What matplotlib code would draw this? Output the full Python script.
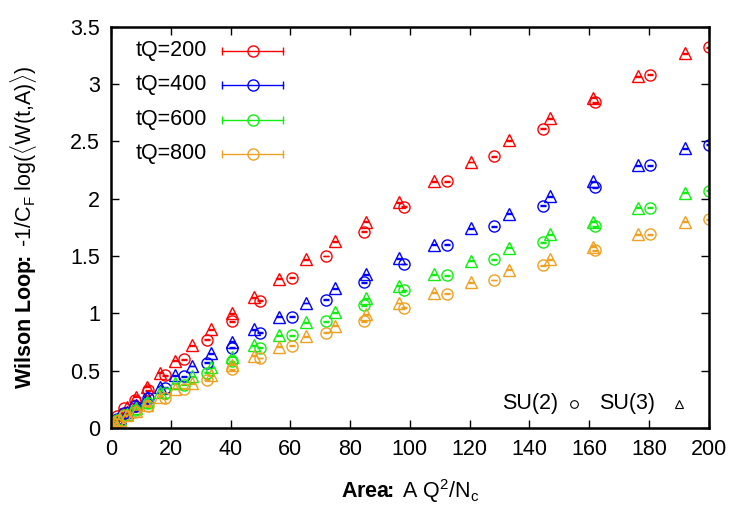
import numpy as np
import matplotlib
matplotlib.use("Agg")
import matplotlib.pyplot as plt

plt.rcParams['font.family'] = ['Liberation Sans', 'DejaVu Sans']
plt.rcParams['mathtext.fontset'] = 'custom'
plt.rcParams['mathtext.rm'] = 'Liberation Sans'
plt.rcParams['mathtext.it'] = 'Liberation Sans:italic'
plt.rcParams['mathtext.bf'] = 'Liberation Sans:bold'

# data
labels = ['tQ=200', 'tQ=400', 'tQ=600', 'tQ=800']
colors = ['#ff0000', '#0000ff', '#11ee11', '#f0a020']

area_su2 = [0, 0.5, 2, 4.5, 8, 12.5, 18, 24.5, 32, 40.5, 50, 60.5, 72, 84.5,
            98, 112.5, 128, 144.5, 162, 180.5, 200]
area_su3 = [0, 0.33, 1.33, 3, 5.33, 8.33, 12, 16.33, 21.33, 27, 33.33, 40.33,
            48, 56.33, 65.33, 75, 85.33, 96.33, 108, 120.33, 133.33, 147,
            161.33, 176.33, 192]

su2_200 = [0, 0.04, 0.10, 0.17, 0.24, 0.33, 0.46, 0.60, 0.77, 0.93, 1.11, 1.31,
           1.50, 1.71, 1.93, 2.15, 2.37, 2.61, 2.84, 3.08, 3.32]
su2_400 = [0, 0.03, 0.08, 0.13, 0.19, 0.26, 0.35, 0.45, 0.57, 0.70, 0.83, 0.97,
           1.12, 1.27, 1.43, 1.60, 1.76, 1.94, 2.10, 2.29, 2.47]
su2_600 = [0, 0.03, 0.07, 0.11, 0.16, 0.22, 0.30, 0.375, 0.48, 0.58, 0.70, 0.81,
           0.93, 1.07, 1.20, 1.33, 1.47, 1.62, 1.76, 1.92, 2.07]
su2_800 = [0, 0.02, 0.06, 0.10, 0.14, 0.19, 0.26, 0.34, 0.42, 0.51, 0.61, 0.715,
           0.83, 0.93, 1.05, 1.17, 1.29, 1.42, 1.55, 1.69, 1.82]

su3_200 = [0, 0.02, 0.06, 0.12, 0.18, 0.27, 0.36, 0.48, 0.585, 0.72, 0.86, 1.00,
           1.14, 1.30, 1.47, 1.63, 1.80, 1.97, 2.15, 2.32, 2.51, 2.70, 2.88,
           3.07, 3.27]
su3_400 = [0, 0.02, 0.05, 0.09, 0.14, 0.20, 0.27, 0.36, 0.46, 0.54, 0.65, 0.75,
           0.86, 0.97, 1.09, 1.22, 1.34, 1.48, 1.60, 1.74, 1.87, 2.02, 2.15,
           2.29, 2.44]
su3_600 = [0, 0.02, 0.05, 0.08, 0.12, 0.17, 0.23, 0.31, 0.39, 0.45, 0.53, 0.62,
           0.72, 0.81, 0.92, 1.01, 1.13, 1.24, 1.34, 1.46, 1.57, 1.69, 1.80,
           1.92, 2.05]
su3_800 = [0, 0.02, 0.04, 0.07, 0.11, 0.15, 0.20, 0.27, 0.34, 0.39, 0.46, 0.55,
           0.63, 0.71, 0.80, 0.89, 0.99, 1.09, 1.18, 1.27, 1.38, 1.47, 1.58,
           1.69, 1.80]

su2_all = [su2_200, su2_400, su2_600, su2_800]
su3_all = [su3_200, su3_400, su3_600, su3_800]

fs = 15.5

fig = plt.figure(figsize=(7.5, 5.25), dpi=100)
ax = fig.add_axes([0.148, 0.185, 0.797, 0.764])

for lab, col, y2, y3 in zip(labels, colors, su2_all, su3_all):
    ax.errorbar(area_su2, y2, yerr=0.004, fmt='o', ms=8, mfc='none', mec=col,
                mew=1.0, ecolor=col, elinewidth=1.0, capsize=2.2, capthick=1.0)
    ax.errorbar(area_su3, y3, yerr=0.004, fmt='^', ms=8, mfc='none', mec=col,
                mew=1.0, ecolor=col, elinewidth=1.0, capsize=2.2, capthick=1.0)

# key, upper left (gnuplot style)
key_y = [0.940, 0.855, 0.768, 0.683]
for lab, col, ky in zip(labels, colors, key_y):
    ax.text(0.160, ky, lab, transform=ax.transAxes, ha='right', va='center',
            fontsize=fs)
    ax.plot([0.186, 0.288], [ky, ky], color=col, lw=1.0, transform=ax.transAxes,
            clip_on=False)
    ax.plot([0.186, 0.288], [ky, ky], ls='none', marker='|', ms=6, mew=1.0,
            color=col, transform=ax.transAxes, clip_on=False)
    ax.plot([0.237], [ky], ls='none', marker='o', ms=8, mfc='none', mec=col,
            mew=1.0, transform=ax.transAxes, clip_on=False)

# symbol key, lower right
ax.text(0.7475, 0.06, 'SU(2)', transform=ax.transAxes, ha='right', va='center',
        fontsize=fs)
ax.plot([0.774], [0.06], ls='none', marker='o', ms=5.5, mfc='none', mec='black',
        mew=0.8, transform=ax.transAxes)
ax.text(0.911, 0.06, 'SU(3)', transform=ax.transAxes, ha='right', va='center',
        fontsize=fs)
ax.plot([0.95], [0.06], ls='none', marker='^', ms=5.5, mfc='none', mec='black',
        mew=0.8, transform=ax.transAxes)

ax.set_xlim(0, 200)
ax.set_ylim(0, 3.5)
ax.set_xticks(np.arange(0, 201, 20))
ax.set_yticks(np.arange(0, 3.51, 0.5))
ax.set_yticklabels(['0', '0.5', '1', '1.5', '2', '2.5', '3', '3.5'])
ax.tick_params(direction='in', length=6, width=1.0, labelsize=fs,
               top=True, right=True, pad=8)
for s in ax.spines.values():
    s.set_linewidth(1.8)

ax.set_xlabel(r'$\mathbf{Area\!\!:}\;$A Q$^2$/N$_\mathrm{c}$', fontsize=fs, labelpad=12)
ax.set_ylabel(r'$\mathbf{Wilson\ Loop\!\!:}\;$-1/C$_\mathrm{F}$ log($\langle$W(t,A)$\rangle$)',
              fontsize=fs, labelpad=22)

fig.savefig('out.png', dpi=100)
